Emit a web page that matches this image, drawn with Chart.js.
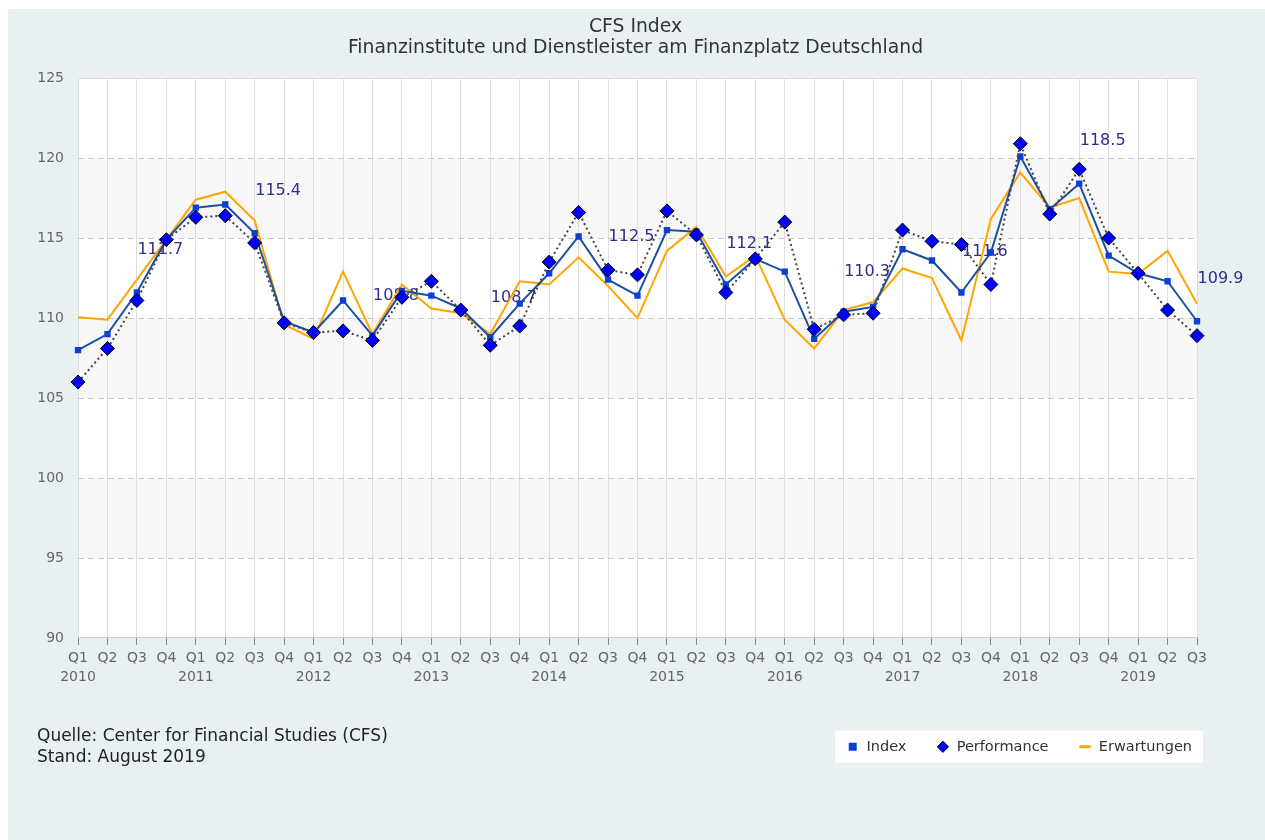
<!DOCTYPE html>
<html lang="de">
<head>
<meta charset="utf-8">
<title>CFS Index</title>
<script src="https://cdn.jsdelivr.net/npm/chart.js@4.4.1/dist/chart.umd.min.js"></script>
<style>
  html, body { margin: 0; padding: 0; background: #ffffff; }
  #frame { position: absolute; left: 8px; top: 9px; width: 1257px; height: 831px; background: #e9f0f2; }
</style>
</head>
<body>
<div id="frame"><canvas id="cfsChart"></canvas></div>
<script>
const TITLE_LINES = ['CFS Index', 'Finanzinstitute und Dienstleister am Finanzplatz Deutschland'];
const FOOTER_LINES = ['Quelle: Center for Financial Studies (CFS)', 'Stand: August 2019'];

const YEARS = ['2010', '2011', '2012', '2013', '2014', '2015', '2016', '2017', '2018', '2019'];
const QUARTERS = ['Q1', 'Q2', 'Q3', 'Q4'];

const INDEX_VALUES = [
  108.0, 109.0, 111.6, 114.9,
  116.9, 117.1, 115.3, 109.8,
  109.1, 111.1, 108.9, 111.7,
  111.4, 110.6, 108.8, 110.9,
  112.8, 115.1, 112.4, 111.4,
  115.5, 115.4, 112.1, 113.7,
  112.9, 108.7, 110.4, 110.7,
  114.3, 113.6, 111.6, 114.1,
  120.1, 116.8, 118.4, 113.9,
  112.8, 112.3, 109.8
];

const PERFORMANCE_VALUES = [
  106.0, 108.1, 111.1, 114.9,
  116.3, 116.4, 114.7, 109.7,
  109.1, 109.2, 108.6, 111.3,
  112.3, 110.5, 108.3, 109.5,
  113.5, 116.6, 113.0, 112.7,
  116.7, 115.2, 111.6, 113.7,
  116.0, 109.3, 110.2, 110.3,
  115.5, 114.8, 114.6, 112.1,
  120.9, 116.5, 119.3, 115.0,
  112.8, 110.5, 108.9
];

const EXPECTATION_VALUES = [
  110.05, 109.9, 112.4, 114.9,
  117.4, 117.9, 116.1, 109.6,
  108.7, 112.9, 109.0, 112.1,
  110.6, 110.3, 109.0, 112.3,
  112.1, 113.8, 112.0, 110.0,
  114.2, 115.7, 112.6, 113.9,
  109.9, 108.1, 110.5, 111.0,
  113.1, 112.5, 108.6, 116.2,
  119.1, 116.9, 117.5, 112.9,
  112.75, 114.2, 110.9
];

// yearly figures printed above the curve, one per year
const ANNUAL_VALUES = [111.7, 115.4, 108.8, 108.7, 112.5, 112.1, 110.3, 111.6, 118.5, 109.9];

const Y_MIN = 90;
const Y_MAX = 125;
const Y_STEP = 5;
const SHADED_BANDS = [[115, 120], [105, 110], [95, 100]];

const LAYOUT = {
  yAxisWidth: 70,
  xAxisHeight: 71.5,
  paddingRight: 68,
  paddingBottom: 76,
  legendShiftX: 25,
  titleShiftX: 33
};

const FONT_FAMILY = '"DejaVu Sans", "Noto Sans", sans-serif';

function buildTickLabels(count) {
  const labels = [];
  for (let i = 0; i < count; i++) {
    const quarter = QUARTERS[i % 4];
    labels.push(i % 4 === 0 ? [quarter, YEARS[Math.floor(i / 4)]] : [quarter]);
  }
  return labels;
}

const plotBackgroundPlugin = {
  id: 'plotBackground',
  beforeDraw(chart) {
    const { ctx, chartArea: area, scales: { y } } = chart;
    ctx.save();
    ctx.fillStyle = '#ffffff';
    ctx.fillRect(area.left, area.top, area.width, area.height);
    ctx.fillStyle = '#f7f7f7';
    SHADED_BANDS.forEach(([from, to]) => {
      const top = y.getPixelForValue(to);
      const bottom = y.getPixelForValue(from);
      ctx.fillRect(area.left, top, area.width, bottom - top);
    });
    ctx.strokeStyle = '#dadada';
    ctx.lineWidth = 1;
    ctx.beginPath();
    ctx.moveTo(area.left, Math.round(area.top) + 0.5);
    ctx.lineTo(area.right, Math.round(area.top) + 0.5);
    ctx.stroke();

    const boxes = chart.legend.legendHitBoxes || [];
    if (boxes.length) {
      const left = Math.min(...boxes.map((b) => b.left));
      const right = Math.max(...boxes.map((b) => b.left + b.width));
      const mid = boxes[0].top + boxes[0].height / 2;
      ctx.fillStyle = '#ffffff';
      ctx.fillRect(left - 11, mid - 16, right - left + 22, 32);
    }
    ctx.restore();
  }
};

// the source centres its title on the whole frame and pushes the legend box to the right edge
const boxShiftPlugin = {
  id: 'boxShift',
  afterLayout(chart) {
    chart.legend.left += LAYOUT.legendShiftX;
    chart.legend.right += LAYOUT.legendShiftX;
    chart.titleBlock.left += LAYOUT.titleShiftX;
    chart.titleBlock.right += LAYOUT.titleShiftX;
  }
};

const annualLabelPlugin = {
  id: 'annualLabels',
  beforeDatasetsDraw(chart) {
    const { ctx, scales: { x, y } } = chart;
    ctx.save();
    ctx.font = '16px ' + FONT_FAMILY;
    ctx.fillStyle = '#2e2e8c';
    ctx.textAlign = 'center';
    ctx.textBaseline = 'middle';
    ANNUAL_VALUES.forEach((value, i) => {
      const px = x.getPixelForValue(i * 4 + 3) - 6;
      const py = y.getPixelForValue(value) - 41;
      ctx.fillText(value.toFixed(1), px, py);
    });
    ctx.restore();
  }
};

const footerPlugin = {
  id: 'footer',
  afterDraw(chart) {
    const { ctx } = chart;
    ctx.save();
    ctx.font = '17px ' + FONT_FAMILY;
    ctx.fillStyle = '#222222';
    ctx.textAlign = 'left';
    ctx.textBaseline = 'middle';
    FOOTER_LINES.forEach((line, i) => ctx.fillText(line, 29, 728 + i * 21));
    ctx.restore();
  }
};

function createDatasets() {
  return [
    {
      label: 'Index',
      data: INDEX_VALUES,
      order: 1,
      borderColor: '#1a4fa3',
      backgroundColor: '#0b3fd6',
      borderWidth: 2,
      pointStyle: 'rect',
      pointRadius: 4.5,
      pointBackgroundColor: '#0b3fd6',
      pointBorderColor: '#0b3fd6',
      pointBorderWidth: 0,
      tension: 0
    },
    {
      label: 'Performance',
      data: PERFORMANCE_VALUES,
      order: 0,
      borderColor: '#444444',
      backgroundColor: '#0000ff',
      borderWidth: 2,
      borderDash: [2, 3],
      pointStyle: 'rectRot',
      pointRadius: 7,
      pointBackgroundColor: '#0000ff',
      pointBorderColor: '#000000',
      pointBorderWidth: 1,
      tension: 0
    },
    {
      label: 'Erwartungen',
      data: EXPECTATION_VALUES,
      order: 2,
      borderColor: '#ffa500',
      backgroundColor: '#ffa500',
      borderWidth: 2,
      pointStyle: 'line',
      pointRadius: 0,
      tension: 0
    }
  ];
}

function generateLegendLabels(chart) {
  const items = Chart.defaults.plugins.legend.labels.generateLabels(chart);
  return items.map((item) => {
    if (item.pointStyle === 'line') {
      return { ...item, lineWidth: 3 };
    }
    if (item.pointStyle === 'rectRot') {
      return { ...item, lineDash: [], strokeStyle: '#000033', lineWidth: 1 };
    }
    return item;
  });
}

Chart.defaults.font.family = FONT_FAMILY;

new Chart(document.getElementById('cfsChart'), {
  type: 'line',
  data: {
    labels: buildTickLabels(INDEX_VALUES.length),
    datasets: createDatasets()
  },
  options: {
    responsive: true,
    maintainAspectRatio: false,
    animation: false,
    layout: {
      padding: { left: 0, top: 0, right: LAYOUT.paddingRight, bottom: LAYOUT.paddingBottom }
    },
    scales: {
      x: {
        type: 'category',
        offset: false,
        grid: {
          color: '#dedede',
          lineWidth: 1,
          tickLength: 7,
          tickColor: '#888888'
        },
        border: { color: '#cfcfcf' },
        ticks: {
          color: '#666666',
          font: { size: 14, lineHeight: 1.36 },
          padding: 4,
          autoSkip: false,
          maxRotation: 0
        },
        afterFit(scale) {
          scale.height = LAYOUT.xAxisHeight;
        }
      },
      y: {
        min: Y_MIN,
        max: Y_MAX,
        ticks: {
          stepSize: Y_STEP,
          color: '#666666',
          font: { size: 14 },
          padding: 14
        },
        grid: {
          color: (c) => (c.tick && (c.tick.value === Y_MIN || c.tick.value === Y_MAX)) ? 'rgba(0,0,0,0)' : '#c9c9c9',
          drawTicks: false
        },
        border: { display: false, dash: [6, 4] },
        afterFit(scale) {
          scale.width = LAYOUT.yAxisWidth;
        }
      }
    },
    plugins: {
      title: {
        display: true,
        text: TITLE_LINES,
        color: '#333333',
        font: { size: 18.8, weight: 'normal', lineHeight: 1.12 },
        padding: { top: 8, bottom: 19 }
      },
      legend: {
        position: 'bottom',
        align: 'end',
        labels: {
          usePointStyle: true,
          boxWidth: 13,
          boxHeight: 8,
          padding: 30,
          color: '#333333',
          font: { size: 14.5 },
          sort: (a, b) => a.datasetIndex - b.datasetIndex,
          generateLabels: generateLegendLabels
        }
      },
      tooltip: { enabled: false }
    }
  },
  plugins: [plotBackgroundPlugin, boxShiftPlugin, annualLabelPlugin, footerPlugin]
});
</script>
</body>
</html>
